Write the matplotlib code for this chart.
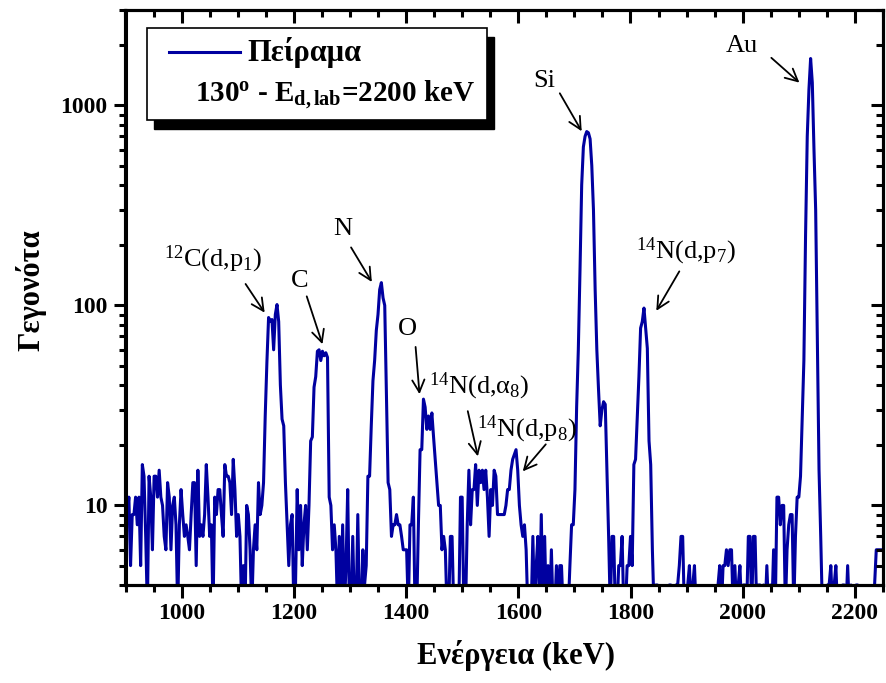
import numpy as np
import matplotlib
matplotlib.use("Agg")
import matplotlib.pyplot as plt
from matplotlib.ticker import MultipleLocator, LogLocator, NullFormatter, FixedLocator, FixedFormatter
from matplotlib.patches import Rectangle

plt.rcParams["font.family"] = ["Liberation Serif", "DejaVu Serif"]
plt.rcParams["mathtext.fontset"] = "custom"
plt.rcParams["mathtext.rm"] = "Liberation Serif"
plt.rcParams["mathtext.it"] = "Liberation Serif:italic"
plt.rcParams["mathtext.bf"] = "Liberation Serif:bold"

# Spectrum calibration: channel energy = E_START + E_STEP * channel
E_START = 900.0
E_STEP = 3.0

counts = [
    # 900 - 1146 keV
    10, 9, 11, 5, 9, 9, 11, 8, 11, 5, 16, 14, 7, 3, 14, 11, 6, 14, 14, 11,
    15, 11, 10, 7, 6, 13, 11, 6, 10, 11, 8, 3, 8, 12, 9, 7, 8, 7, 6, 9,
    13, 13, 5, 15, 7, 8, 7, 9, 16, 11, 7, 8, 3, 11, 9, 12, 12, 9, 7, 16,
    14, 14, 13, 9, 17, 12, 7, 9, 7, 3, 5, 3, 10, 9, 6, 3, 6, 8, 6, 13,
    9, 10, 13,
    # 1149 - 1260 keV : 12C(d,p1) and C
    28, 52, 87, 83, 85, 60, 90, 101, 83, 40, 27, 25, 13, 8, 5, 8, 9, 3, 4, 12,
    6, 10, 5, 8, 10, 6, 10, 21, 22, 39, 44, 59, 60, 53, 59, 56, 58, 55,
    # 1263 - 1419 keV : N
    11, 10, 6, 8, 6, 3, 7, 3, 8, 3, 5, 12, 3, 3, 7, 3, 3, 9, 3, 3,
    6, 4, 5, 14, 14, 25, 42, 53, 75, 90, 120, 130, 109, 100, 37, 13, 12, 7, 8, 8,
    9, 8, 8, 7, 6, 6, 6, 3, 8, 8, 11, 3, 3,
    # 1422 - 1701 keV : O, 14N(d,a8), 14N(d,p8)
    8, 19, 19, 34, 31, 24, 28, 24, 29, 22, 17, 13, 10, 10, 6, 7, 6, 3, 3, 7,
    7, 3, 3, 3, 3, 11, 11, 3, 3, 8, 15, 8, 12, 12, 16, 10, 15, 13, 15, 12,
    15, 11, 7, 12, 10, 15, 14, 9, 9, 9, 9, 9, 10, 12, 12, 15, 17, 18, 19, 15,
    10, 8, 7, 8, 6, 3, 3, 3, 7, 3, 5, 7, 3, 9, 3, 7, 3, 5, 3, 6,
    3, 3, 5, 3, 5, 5, 3, 3, 3, 3, 5, 8, 8, 12,
    # 1704 - 1842 keV : Si and 14N(d,p7)
    31, 60, 150, 400, 620, 700, 740, 730, 680, 500, 300, 120, 60, 38, 25, 30, 33, 32, 15, 7,
    3, 7, 7, 3, 3, 5, 5, 7, 3, 3, 5, 5, 7, 5, 16, 17, 27, 44, 77, 83,
    97, 77, 61, 21, 16, 6, 3,
    # 1845 - 2106 keV
    4, 4, 3, 2, 2, 2, 2, 2, 4, 4, 2, 2, 4, 4, 5, 7, 7, 3, 3, 4,
    5, 3, 4, 5, 3, 2, 2, 2, 2, 2, 2, 2, 2, 2, 2, 2, 2, 4, 5, 3,
    5, 5, 6, 5, 6, 6, 3, 5, 3, 4, 5, 3, 4, 4, 3, 7, 7, 3, 7, 7,
    3, 4, 4, 3, 4, 3, 5, 3, 4, 3, 6, 3, 11, 11, 8, 10, 10, 3, 6, 8,
    9, 9, 3, 7, 11, 11, 14,
    # 2109 - 2250 keV : Au
    27, 53, 225, 700, 1200, 1716, 1300, 600, 300, 70, 15, 7, 3, 2, 2, 4, 4, 5, 3, 4,
    5, 3, 2, 2, 4, 4, 3, 5, 3, 4, 2, 2, 4, 4, 2, 2, 2, 2, 2, 2,
    2, 2, 2, 4, 6, 6, 6, 6, 6, 6,
]
energy = E_START + E_STEP * np.arange(len(counts))

# Peak labels: (text, text position, arrow tail, arrow head) in (keV, counts)
peak_labels = [
    (r"$^{12}$C(d,p$_1$)", (1057, 170), (1114, 128), (1148, 92)),
    ("C", (1211, 132), (1223, 111), (1251, 64)),
    ("N", (1287, 241), (1302, 195), (1339, 131)),
    ("O", (1403, 76), (1417, 62), (1424, 36)),
    (r"$^{14}$N(d,α$_8$)", (1531, 39.5), (1510, 29.6), (1528, 17.6)),
    (r"$^{14}$N(d,p$_8$)", (1615, 24), (1649, 20.2), (1608, 14.8)),
    ("Si", (1647, 1322), (1674, 1150), (1713, 743)),
    (r"$^{14}$N(d,p$_7$)", (1898, 186), (1887, 148), (1846, 94)),
    ("Au", (1998, 1990), (2051, 1730), (2101, 1300)),
]

x_major = [1000, 1200, 1400, 1600, 1800, 2000, 2200]
y_major = [10, 100, 1000]

LINE_COLOR = "#0000A0"

fig = plt.figure(figsize=(8.86, 6.83), dpi=100)
ax = fig.add_axes([125.5 / 886, 1 - 585 / 683, 757.5 / 886, 575 / 683])

ax.plot(energy, counts, color=LINE_COLOR, lw=2.2, solid_joinstyle="round")
ax.set_yscale("log", nonpositive="clip")
ax.set_xlim(900, 2250)
ax.set_ylim(4, 3000)

ax.xaxis.set_major_locator(FixedLocator(x_major))
ax.xaxis.set_minor_locator(MultipleLocator(50))
ax.yaxis.set_major_locator(FixedLocator(y_major))
ax.yaxis.set_major_formatter(FixedFormatter([str(v) for v in y_major]))
ax.yaxis.set_minor_locator(LogLocator(base=10, subs=np.arange(2, 10)))
ax.yaxis.set_minor_formatter(NullFormatter())

for sp in ax.spines.values():
    sp.set_linewidth(2.2)

tick_kw = dict(width=2.2, color="black")
ax.tick_params(which="major", direction="out", length=9, pad=4, labelsize=17, **tick_kw)
ax.tick_params(which="minor", direction="out", length=5, **tick_kw)
for lab in ax.get_xticklabels() + ax.get_yticklabels():
    lab.set_fontweight("bold")

# inward ticks on the top and right edges
top = ax.twiny()
top.set_xlim(ax.get_xlim())
top.xaxis.set_major_locator(FixedLocator(x_major))
top.xaxis.set_minor_locator(MultipleLocator(50))
top.tick_params(which="major", direction="in", length=9, labeltop=False, **tick_kw)
top.tick_params(which="minor", direction="in", length=5, **tick_kw)
right = ax.twinx()
right.set_yscale("log")
right.set_ylim(ax.get_ylim())
right.yaxis.set_major_locator(FixedLocator(y_major))
right.yaxis.set_minor_locator(LogLocator(base=10, subs=np.arange(2, 10)))
right.yaxis.set_minor_formatter(NullFormatter())
right.tick_params(which="major", direction="in", length=9, labelright=False, **tick_kw)
right.tick_params(which="minor", direction="in", length=5, **tick_kw)
for a in (top, right):
    for sp in a.spines.values():
        sp.set_linewidth(2.2)

ax.set_xlabel("Ενέργεια (keV)", fontsize=22, fontweight="bold")
ax.xaxis.set_label_coords(0.5155, -0.095)
ax.set_ylabel("Γεγονότα", fontsize=22, fontweight="bold", va="center")
ax.yaxis.set_label_coords(-0.125, 0.513)

for text, tpos, tail, head in peak_labels:
    ax.annotate("", xy=head, xytext=tail,
                arrowprops=dict(arrowstyle="->", lw=1.3, color="black",
                                mutation_scale=22, shrinkA=0, shrinkB=0))
    ax.text(tpos[0], tpos[1], text, fontsize=19, ha="center", va="center", color="black")

# legend box with solid shadow
bx0, bx1 = (147 - 125.5) / 757.5, (487 - 125.5) / 757.5
by0, by1 = (585 - 120) / 575, (585 - 28) / 575
dx, dy = 7 / 757.5, 9 / 575
ax.add_patch(Rectangle((bx0 + dx, by0 - dy), bx1 - bx0, by1 - by0, transform=ax.transAxes,
                       facecolor="black", edgecolor="black", zorder=5, clip_on=False))
ax.add_patch(Rectangle((bx0, by0), bx1 - bx0, by1 - by0, transform=ax.transAxes,
                       facecolor="white", edgecolor="black", lw=1.2, zorder=6, clip_on=False))
ax.plot([(169 - 125.5) / 757.5, (240 - 125.5) / 757.5], [(585 - 52) / 575] * 2,
        transform=ax.transAxes, color=LINE_COLOR, lw=2.2, zorder=7)
ax.text((247 - 125.5) / 757.5, (585 - 52) / 575, "Πείραμα", transform=ax.transAxes,
        fontsize=22, fontweight="bold", ha="left", va="center", zorder=7)
ax.text((195 - 125.5) / 757.5, (585 - 95) / 575,
        r"130$^{\mathbf{o}}$ - E$_{\mathbf{d,lab}}$=2200 keV", transform=ax.transAxes,
        fontsize=21, fontweight="bold", ha="left", va="center", zorder=7)

fig.savefig("out.png", dpi=100)
